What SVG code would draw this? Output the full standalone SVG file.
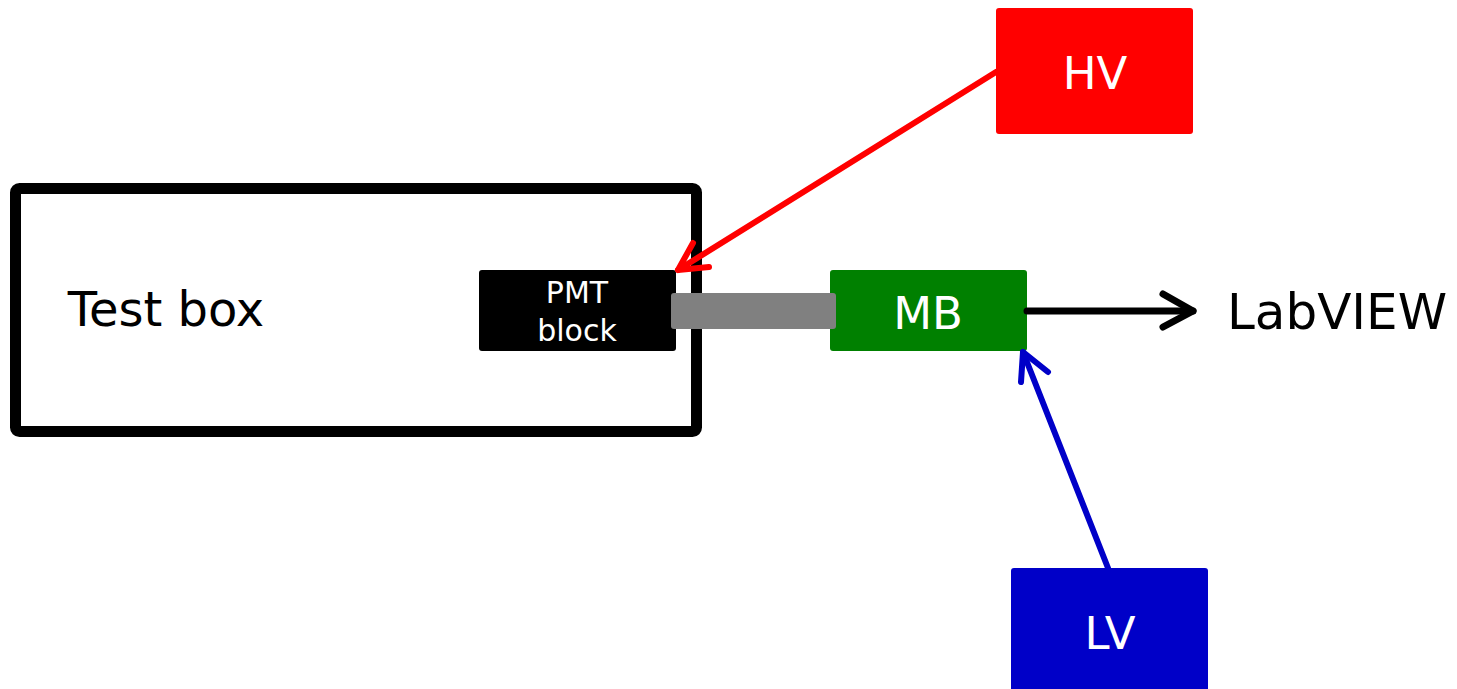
<svg xmlns="http://www.w3.org/2000/svg" width="1457" height="689" viewBox="0 0 1457 689">
  <style>
    .lbl { font-family: "Comic Sans MS", "DejaVu Sans", "Liberation Sans", sans-serif; text-anchor: middle; }
    .wt { fill: #ffffff; }
    .bk { fill: #000000; }
    .wire { fill: none; stroke-linecap: round; stroke-linejoin: round; }
  </style>
  <rect x="0" y="0" width="1457" height="689" fill="#ffffff"/>

  <g id="test-box">
    <rect x="15.5" y="188.5" width="681" height="243" rx="4" fill="none" stroke="#000000" stroke-width="11"/>
    <text class="lbl bk" x="166" y="326" font-size="48">Test box</text>
  </g>

  <g id="pmt-block">
    <rect x="479" y="270" width="197" height="81" rx="3" fill="#000000"/>
    <text class="lbl wt" x="577" y="303" font-size="30">PMT</text>
    <text class="lbl wt" x="577" y="341" font-size="30">block</text>
  </g>

  <g id="mb">
    <rect x="830" y="270" width="197" height="81" rx="3" fill="#008000"/>
    <text class="lbl wt" x="928" y="329" font-size="45">MB</text>
  </g>

  <!-- cable between PMT block and MB, laid over both ends -->
  <g id="cable">
    <rect x="671" y="293" width="165" height="36" rx="3" fill="#808080"/>
  </g>

  <g id="hv">
    <rect x="996" y="8" width="197" height="126" rx="3" fill="#ff0000"/>
    <text class="lbl wt" x="1095" y="89" font-size="45">HV</text>
  </g>

  <g id="lv">
    <rect x="1011" y="568" width="197" height="130" rx="3" fill="#0000c8"/>
    <text class="lbl wt" x="1110" y="649" font-size="45">LV</text>
  </g>

  <g id="labview">
    <text class="lbl bk" x="1337" y="329" font-size="50">LabVIEW</text>
  </g>

  <g id="connectors">
    <!-- HV supply to PMT block -->
    <path class="wire" d="M996,72 L678,270" stroke="#ff0000" stroke-width="6"/>
    <path class="wire" d="M693,243 L678,270 L709,267" stroke="#ff0000" stroke-width="6"/>
    <!-- LV supply to MB -->
    <path class="wire" d="M1108,568 L1023,352" stroke="#0000c8" stroke-width="6"/>
    <path class="wire" d="M1021,382 L1023,352 L1048,372" stroke="#0000c8" stroke-width="6"/>
    <!-- MB output to LabVIEW -->
    <path class="wire" d="M1027,311 L1193,311" stroke="#000000" stroke-width="7"/>
    <path class="wire" d="M1163,294 L1193,311 L1163,327" stroke="#000000" stroke-width="7"/>
  </g>
</svg>
